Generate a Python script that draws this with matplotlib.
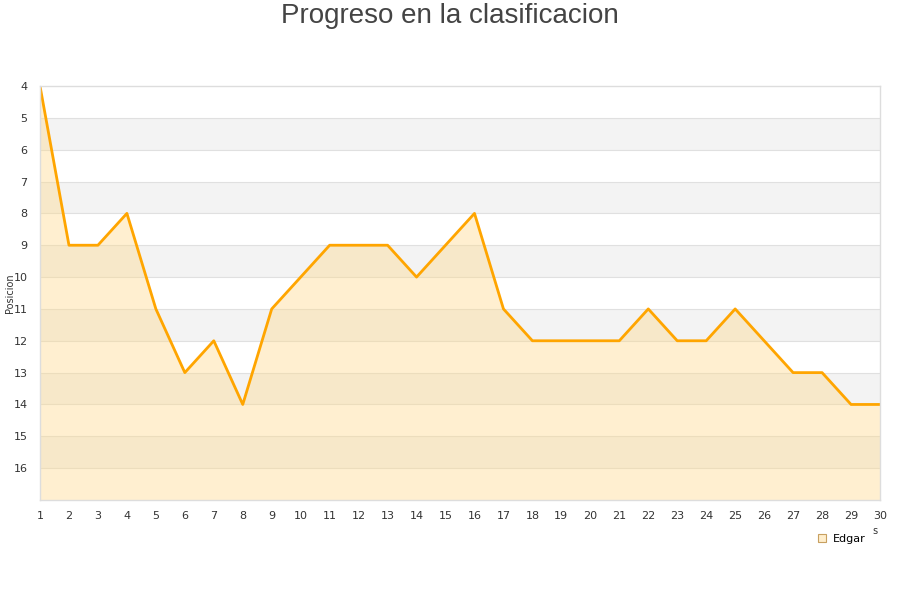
import matplotlib.pyplot as plt
from matplotlib.lines import Line2D

jornadas = list(range(1, 31))
posicion = [4, 9, 9, 8, 11, 13, 12, 14, 11, 10, 9, 9, 9, 10, 9, 8, 11, 12, 12, 12,
            12, 11, 12, 12, 11, 12, 13, 13, 14, 14]
y_ticks = list(range(4, 17))

fig = plt.figure(figsize=(9, 6), dpi=100)
ax = fig.add_axes([40/900, 100/600, 840/900, 414/600])

ax.set_xlim(1, 30)
ax.set_ylim(17, 4)

# alternating bands
for y0 in range(5, 17, 2):
    ax.axhspan(y0, y0 + 1, color='#f3f3f3', zorder=0, lw=0)
for y in range(5, 17):
    ax.axhline(y, color='#e0e0e0', lw=0.8, zorder=0.5)

ax.fill_between(jornadas, posicion, 17, color='#ffd98a', alpha=0.4, lw=0, zorder=1)
ax.plot(jornadas, posicion, color='#ffa500', lw=2.0, zorder=2)

ax.set_xticks(jornadas)
ax.set_yticks(y_ticks)
ax.tick_params(length=0, labelsize=8, colors='#333333')
ax.tick_params(axis='y', pad=9)
ax.tick_params(axis='x', pad=8)
for s in ax.spines.values():
    s.set_color('#dddddd')
    s.set_linewidth(1)

ax.set_ylabel('Posicion', fontsize=7, color='#333333')
ax.yaxis.set_label_coords(-0.030, 0.5)
fig.text(875/900, 1 - 531/600, 's', fontsize=7, color='#333333', ha='center', va='center')

fig.text(0.5, 1 - 16/600, 'Progreso en la clasificacion', fontsize=20, color='#444444',
         ha='center', va='center', family='Liberation Sans')

handle = Line2D([], [], marker='s', ls='none', markersize=6,
                markerfacecolor='#ffeecc', markeredgecolor='#c8a060', markeredgewidth=0.8)
fig.legend([handle], ['Edgar'], loc='center', bbox_to_anchor=(841/900, 1 - 539/600),
           frameon=False, fontsize=8, handletextpad=0.4, handlelength=1)

fig.savefig('out.png', dpi=100)
